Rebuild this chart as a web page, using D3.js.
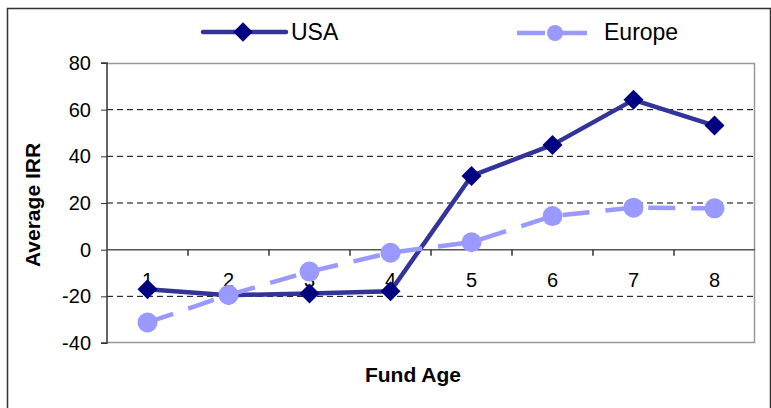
<!DOCTYPE html>
<html><head><meta charset="utf-8">
<script src="https://cdn.jsdelivr.net/npm/d3@7"></script>
<style>body{margin:0;background:#fff}svg{display:block;font-family:"Liberation Sans",Arial,sans-serif}</style>
</head><body>
<svg id="c" width="771" height="408"></svg>
<script>
const categories = [1,2,3,4,5,6,7,8];
const usaValues = [-17,-19.5,-18.8,-17.8,31.6,44.9,64.2,53.2];
const europeValues = [-31.2,-19.4,-9.4,-1.3,3.2,14.4,18,17.7];
const yTicks = [-40,-20,0,20,40,60,80];
const seriesNames = ["USA","Europe"];

const svg = d3.select("#c");
const L=107,R=755,T=63,B=343;
const x = d3.scaleBand().domain(categories).range([L,R]);
const y = d3.scaleLinear().domain([-40,80]).range([B,T]);

// outer border
svg.append("path").attr("d","M7.5,410 V8.5 H770.5 V410").attr("fill","none").attr("stroke","#333").attr("stroke-width",1.5);

// gridlines
svg.append("g").selectAll("line").data(yTicks.filter(d=>d!==0&&d!==80&&d!==-40)).join("line")
 .attr("x1",L).attr("x2",R).attr("y1",d=>y(d)).attr("y2",d=>y(d))
 .attr("stroke","#000").attr("stroke-dasharray","6,4").attr("stroke-width",1);

// plot border (top,right,bottom gray)
svg.append("path").attr("d",`M${L},${T+0.5} H${R-0.5} V${B-0.5} H${L}`).attr("fill","none").attr("stroke","#999").attr("stroke-width",1.5);

// y axis
const yAxis = d3.axisLeft(y).tickValues(yTicks).tickFormat(d=>String(d)).tickSize(6).tickPadding(10);
const gy = svg.append("g").attr("transform",`translate(${L},0)`).call(yAxis);
gy.select(".domain").attr("stroke","#333").attr("stroke-width",1.5).attr("d",`M-6,${T}H0V${B}H-6`);
gy.selectAll(".tick line").attr("stroke","#333");
gy.selectAll("text").attr("font-size",20).attr("fill","#000").attr("font-family","Liberation Sans, Arial, sans-serif");

// zero line with ticks
const xAxis = d3.axisBottom(x).tickSize(0).tickPadding(0);
const gx = svg.append("g").attr("transform",`translate(0,${y(0)})`).call(xAxis);
gx.select(".domain").attr("stroke","#555").attr("stroke-width",1.5).attr("d",`M${L},0H${R}`);
gx.selectAll("text").attr("font-size",20).attr("fill","#000").attr("dy",0).attr("y",37).attr("font-family","Liberation Sans, Arial, sans-serif");
svg.append("g").selectAll("line").data(categories.slice(1)).join("line")
 .attr("x1",d=>x(d)).attr("x2",d=>x(d)).attr("y1",y(0)).attr("y2",y(0)+6).attr("stroke","#333").attr("stroke-width",1.5);

const cx = d=>x(d)+x.bandwidth()/2;
const line = d3.line().x((d,i)=>cx(categories[i])).y(d=>y(d));

// USA
svg.append("path").datum(usaValues).attr("d",line).attr("fill","none")
 .attr("stroke","#333399").attr("stroke-width",4.5).attr("stroke-linejoin","round");
const diamond = d3.symbol().type(d3.symbolSquare).size(200);
svg.append("g").selectAll("path").data(usaValues).join("path")
 .attr("d",diamond).attr("transform",(d,i)=>`translate(${cx(categories[i])},${y(d)}) rotate(45)`).attr("fill","#000080");

// Europe
svg.append("path").datum(europeValues).attr("d",line).attr("fill","none")
 .attr("stroke","#9999ff").attr("stroke-width",4.5).attr("stroke-dasharray","27,16");
svg.append("g").selectAll("circle").data(europeValues).join("circle")
 .attr("cx",(d,i)=>cx(categories[i])).attr("cy",d=>y(d)).attr("r",10).attr("fill","#9999ff");

// axis titles
svg.append("text").attr("x",413).attr("y",382).attr("text-anchor","middle").attr("font-weight","bold").attr("font-size",21).text("Fund Age");
svg.append("text").attr("transform","translate(40,205) rotate(-90)").attr("text-anchor","middle").attr("font-weight","bold").attr("font-size",21).text("Average IRR");

// legend
const lg = svg.append("g");
lg.append("line").attr("x1",203).attr("x2",286).attr("y1",32).attr("y2",32).attr("stroke","#333399").attr("stroke-width",4.5).attr("stroke-linecap","round");
lg.append("path").attr("d",d3.symbol().type(d3.symbolSquare).size(190)).attr("transform","translate(243,32) rotate(45)").attr("fill","#000080");
lg.append("text").attr("x",291).attr("y",40).attr("font-size",23).text(seriesNames[0]);
lg.append("line").attr("x1",517).attr("x2",588).attr("y1",33).attr("y2",33).attr("stroke","#9999ff").attr("stroke-width",4.5).attr("stroke-dasharray","28,14");
lg.append("circle").attr("cx",555).attr("cy",33).attr("r",8).attr("fill","#9999ff");
lg.append("text").attr("x",604).attr("y",40).attr("font-size",23).text(seriesNames[1]);
</script>
</body></html>
